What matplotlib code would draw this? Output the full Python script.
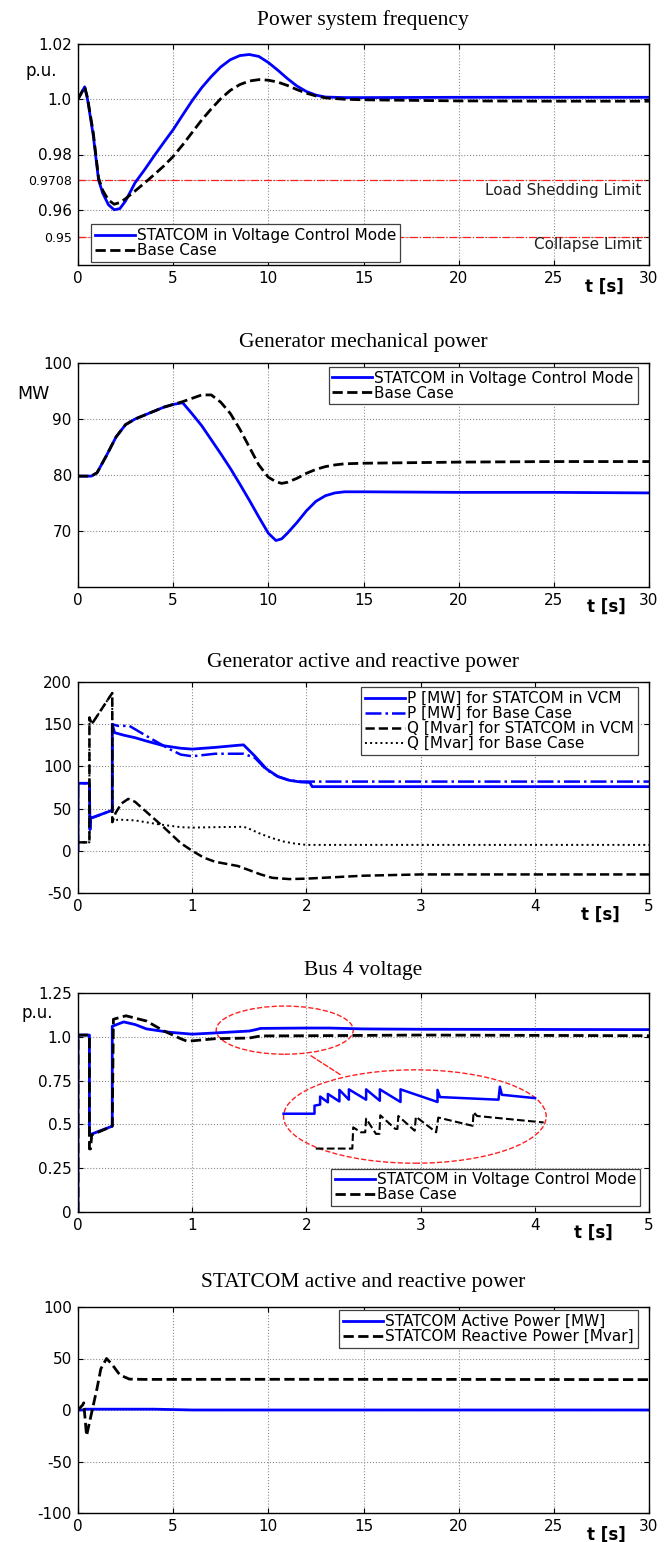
import matplotlib
matplotlib.use('Agg')
import matplotlib.pyplot as plt
import numpy as np
from matplotlib.patches import Ellipse

plt.rcParams['axes.unicode_minus'] = False

# ---- panel 1: power system frequency (p.u.)
t_freq = [0, 0.35, 0.5, 0.8, 1.08, 1.3, 1.6, 1.9, 2.2, 2.5, 3.0, 3.5, 4.0, 4.5, 5.0, 5.5, 6.0,
          6.5, 7.0, 7.5, 8.0, 8.5, 9.0, 9.5, 10.0, 10.5, 11.0, 11.5, 12.0, 12.5, 13.0, 14.0,
          15.0, 20.0, 25.0, 30.0]
freq_statcom = [1.0, 1.0045, 1.0, 0.987, 0.9708, 0.966, 0.9618, 0.9600, 0.9604, 0.9632, 0.9698,
                0.9745, 0.9795, 0.9843, 0.9890, 0.9943, 0.9995, 1.0042, 1.0082, 1.0117, 1.0143,
                1.0158, 1.0162, 1.0155, 1.0133, 1.0105, 1.0075, 1.0048, 1.0028, 1.0015, 1.0008,
                1.0006, 1.0006, 1.0007, 1.0007, 1.0007]
freq_base = [1.0, 1.0045, 1.0005, 0.988, 0.9715, 0.967, 0.9635, 0.9620, 0.9626, 0.9640, 0.9668,
             0.9697, 0.9727, 0.9758, 0.9793, 0.9835, 0.9880, 0.9925, 0.9965, 1.0002, 1.0032,
             1.0053, 1.0066, 1.0071, 1.0069, 1.0062, 1.0050, 1.0035, 1.0022, 1.0012, 1.0005,
             1.0, 0.9998, 0.9994, 0.9993, 0.9993]
load_shedding_limit = 0.9708
collapse_limit = 0.95

# ---- panel 2: generator mechanical power (MW)
t_mech = [0, 0.7, 1.0, 1.5, 2.0, 2.5, 3.0, 3.5, 4.0, 4.5, 5.0, 5.5, 6.0, 6.5, 7.0, 7.5, 8.0,
          8.5, 9.0, 9.5, 10.0, 10.4, 10.7, 11.0, 11.5, 12.0, 12.5, 13.0, 13.5, 14.0, 15.0,
          20.0, 25.0, 30.0]
mech_statcom = [79.8, 79.8, 80.4, 83.5, 86.8, 89.0, 90.0, 90.7, 91.4, 92.1, 92.6, 92.9, 90.9,
                88.8, 86.3, 83.8, 81.2, 78.4, 75.5, 72.5, 69.6, 68.3, 68.6, 69.6, 71.5, 73.6,
                75.3, 76.3, 76.8, 77.0, 77.0, 76.9, 76.9, 76.8]
mech_base = [79.8, 79.8, 80.4, 83.5, 86.8, 89.0, 90.0, 90.7, 91.4, 92.1, 92.6, 93.1, 93.7,
             94.3, 94.3, 93.0, 91.0, 88.2, 85.0, 81.8, 79.6, 78.8, 78.5, 78.7, 79.4, 80.3,
             81.0, 81.5, 81.8, 82.0, 82.1, 82.3, 82.4, 82.4]

# ---- panel 3: generator active and reactive power
t_p_statcom = [0, 0, 0.10, 0.105, 0.11, 0.12, 0.2, 0.3, 0.3, 0.32, 0.4, 0.5, 0.6, 0.75, 0.9,
               1.0, 1.2, 1.4, 1.45, 1.55, 1.65, 1.75, 1.85, 1.95, 2.03, 2.05, 5.0]
p_statcom = [0, 80, 80, 25, 40, 39, 43, 48, 150, 140, 137, 134, 130, 124.5, 121.5, 120.5,
             122.5, 125, 125.5, 112, 97, 88, 83.5, 81.5, 81, 76, 76]
t_p_base = [0, 0, 0.10, 0.105, 0.11, 0.12, 0.2, 0.3, 0.3, 0.35, 0.45, 0.6, 0.8, 0.9, 1.0,
            1.1, 1.2, 1.45, 1.55, 1.65, 1.75, 1.85, 1.95, 2.0, 5.0]
p_base = [0, 80, 80, 25, 40, 39, 43, 48, 150, 148, 148, 136, 120.5, 114, 112, 113.5, 115,
          115, 110, 96, 88, 83.5, 82, 82, 82]
t_q_statcom = [0, 0.1, 0.1, 0.12, 0.3, 0.3, 0.33, 0.38, 0.44, 0.5, 0.6, 0.75, 0.9, 1.0, 1.1,
               1.2, 1.4, 1.5, 1.6, 1.7, 1.85, 2.0, 2.5, 3.0, 4.0, 5.0]
q_statcom = [10, 10, 158, 150, 187, 34, 45, 56, 61.5, 58, 46, 28, 9, 0, -8, -13, -18, -23,
             -28, -32, -33.5, -33, -29.5, -28, -28, -28]
t_q_base = [0, 0.1, 0.1, 0.12, 0.3, 0.3, 0.35, 0.5, 0.7, 0.9, 1.0, 1.2, 1.45, 1.5, 1.6, 1.7,
            1.8, 1.9, 2.0, 3.0, 5.0]
q_base = [10, 10, 158, 150, 187, 34, 37, 36, 31.5, 28, 27.5, 28, 28.5, 26, 20, 15, 11, 8.5,
          7, 7, 7]

# ---- panel 4: bus 4 voltage (p.u.)
t_v_statcom = [0, 0, 0.1, 0.1, 0.12, 0.3, 0.3, 0.4, 0.5, 0.6, 0.8, 1.0, 1.2, 1.5, 1.55, 1.6,
               2.0, 2.2, 2.5, 3.0, 5.0]
v_statcom = [0, 1.01, 1.01, 0.44, 0.445, 0.49, 1.06, 1.085, 1.07, 1.045, 1.026, 1.015, 1.022,
             1.033, 1.04, 1.048, 1.05, 1.05, 1.045, 1.043, 1.041]
t_v_base = [0, 0, 0.1, 0.1, 0.11, 0.12, 0.3, 0.31, 0.42, 0.6, 0.75, 0.9, 0.95, 1.0, 1.2, 1.5,
            1.6, 2.0, 3.0, 5.0]
v_base = [0, 1.01, 1.01, 0.36, 0.36, 0.44, 0.49, 1.1, 1.12, 1.09, 1.034, 0.989, 0.976, 0.977,
          0.989, 0.993, 1.005, 1.006, 1.01, 1.006]
# magnified detail drawn inside the big ellipse
t_zoom_statcom = [1.800, 2.071, 2.071, 2.120, 2.120, 2.188, 2.188, 2.289, 2.289, 2.372, 2.372,
                  2.523, 2.523, 2.643, 2.643, 2.824, 2.824, 3.148, 3.148, 3.170, 3.682, 3.694,
                  3.712, 4.002]
zoom_statcom = [0.561, 0.561, 0.607, 0.613, 0.659, 0.626, 0.674, 0.631, 0.697, 0.641, 0.700,
                0.641, 0.700, 0.635, 0.700, 0.628, 0.700, 0.628, 0.697, 0.656, 0.641, 0.715,
                0.669, 0.650]
t_zoom_base = [2.082, 2.402, 2.410, 2.477, 2.515, 2.523, 2.609, 2.639, 2.647, 2.779, 2.797,
               2.805, 2.948, 2.959, 3.136, 3.155, 3.456, 3.464, 3.494, 4.078]
zoom_base = [0.362, 0.362, 0.483, 0.455, 0.455, 0.533, 0.446, 0.446, 0.552, 0.474, 0.474,
             0.548, 0.464, 0.544, 0.455, 0.539, 0.492, 0.570, 0.548, 0.511]

# ---- panel 5: STATCOM active and reactive power
t_sp = [0, 0.3, 0.35, 4.0, 6.0, 30.0]
statcom_p = [0, 0, 0.8, 0.8, 0, 0]
t_sq = [0, 0.25, 0.3, 0.45, 0.7, 1.0, 1.2, 1.5, 1.8, 2.2, 2.7, 3.5, 10.0, 20.0, 30.0]
statcom_q = [0, 5, 7, -25, -4, 21, 40, 50, 44, 34, 30, 29.7, 29.8, 29.7, 29.5]

BLUE = '#0000ff'
RED = '#ff2020'
SANS = 'DejaVu Sans'
SERIF = 'Liberation Serif'
W, H = 671, 1542

fig = plt.figure(figsize=(W / 100, H / 100), dpi=100)
fig.patch.set_facecolor('white')


def make_axes(top, bottom, title, title_y):
    ax = fig.add_axes([78 / W, 1 - bottom / H, 571 / W, (bottom - top) / H])
    ax.tick_params(direction='in', top=True, right=True, length=3.5, width=0.8,
                   labelsize=11, pad=4.5)
    ax.grid(True, linestyle=':', color='0.55', linewidth=0.8)
    for sp in ax.spines.values():
        sp.set_linewidth(1.0)
    fig.text(363 / W, 1 - title_y / H, title, family=SERIF, fontsize=15.5,
             ha='center', va='center')
    return ax


def finish(ax, tx, ty):
    for lab in ax.get_xticklabels() + ax.get_yticklabels():
        lab.set_family(SANS)
    ax.text(tx, ty, 't [s]', transform=ax.transAxes, family=SANS, fontsize=12,
            fontweight='bold', ha='center', va='center')


def legend(ax, **kw):
    leg = ax.legend(prop={'family': SANS, 'size': 11}, fancybox=False, framealpha=1,
                    edgecolor='#404040', handlelength=2.6, handletextpad=0.15,
                    labelspacing=0.0, borderpad=0.25, borderaxespad=0, **kw)
    leg.get_frame().set_linewidth(0.9)
    return leg


# panel 1
ax1 = make_axes(44, 265, 'Power system frequency', 20)
ax1.axhline(load_shedding_limit, color=RED, ls='-.', lw=0.9)
ax1.axhline(collapse_limit, color=RED, ls='-.', lw=0.9)
ax1.plot(t_freq, freq_statcom, color=BLUE, lw=2, label='STATCOM in Voltage Control Mode')
ax1.plot(t_freq, freq_base, color='k', ls='--', lw=2, label='Base Case')
ax1.set_xlim(0, 30)
ax1.set_ylim(0.94, 1.02)
ax1.set_xticks(np.arange(0, 31, 5))
ax1.set_yticks([0.95, 0.96, 0.9708, 0.98, 1.0, 1.02])
ax1.set_yticklabels(['0.95', '0.96', '0.9708', '0.98', '1.0', '1.02'])
for lab in ax1.get_yticklabels():
    if lab.get_text() in ('0.95', '0.9708'):
        lab.set_fontsize(9)
ax1.text(29.6, 0.9668, 'Load Shedding Limit', family=SANS, fontsize=11, ha='right',
         va='center', color='#202020')
ax1.text(29.6, 0.9474, 'Collapse Limit', family=SANS, fontsize=11, ha='right',
         va='center', color='#202020')
ax1.text(-0.065, 0.878, 'p.u.', transform=ax1.transAxes, family=SANS, fontsize=12,
         ha='center', va='center')
legend(ax1, loc='lower left', bbox_to_anchor=(0.023, 0.015))
finish(ax1, 0.921, -0.10)

# panel 2
ax2 = make_axes(363, 587, 'Generator mechanical power', 343)
ax2.plot(t_mech, mech_statcom, color=BLUE, lw=2, label='STATCOM in Voltage Control Mode')
ax2.plot(t_mech, mech_base, color='k', ls='--', lw=2, label='Base Case')
ax2.set_xlim(0, 30)
ax2.set_ylim(60, 100)
ax2.set_xticks(np.arange(0, 31, 5))
ax2.set_yticks([70, 80, 90, 100])
ax2.text(-0.079, 0.862, 'MW', transform=ax2.transAxes, family=SANS, fontsize=12.5,
         ha='center', va='center')
legend(ax2, loc='upper right', bbox_to_anchor=(0.98, 0.983))
finish(ax2, 0.925, -0.089)

# panel 3
ax3 = make_axes(682, 893, 'Generator active and reactive power', 662)
ax3.plot(t_p_base, p_base, color=BLUE, ls='-.', lw=1.8, label='P [MW] for Base Case')
ax3.plot(t_p_statcom, p_statcom, color=BLUE, lw=2, label='P [MW] for STATCOM in VCM')
ax3.plot(t_q_base, q_base, color='k', ls=':', lw=1.4, label='Q [Mvar] for Base Case')
ax3.plot(t_q_statcom, q_statcom, color='k', ls='--', lw=1.8,
         label='Q [Mvar] for STATCOM in VCM')
ax3.set_xlim(0, 5)
ax3.set_ylim(-50, 200)
ax3.set_xticks(np.arange(0, 6, 1))
ax3.set_yticks(np.arange(-50, 201, 50))
h, l = ax3.get_legend_handles_labels()
order = [1, 0, 3, 2]
legend(ax3, handles=[h[i] for i in order], labels=[l[i] for i in order],
       loc='upper right', bbox_to_anchor=(0.98, 0.976))
finish(ax3, 0.914, -0.104)

# panel 4
ax4 = make_axes(993, 1212, 'Bus 4 voltage', 970)
ax4.plot(t_v_statcom, v_statcom, color=BLUE, lw=2, label='STATCOM in Voltage Control Mode')
ax4.plot(t_v_base, v_base, color='k', ls='--', lw=2, label='Base Case')
ax4.plot(t_zoom_statcom, zoom_statcom, color=BLUE, lw=1.8)
ax4.plot(t_zoom_base, zoom_base, color='k', ls='--', lw=1.5)
ax4.add_patch(Ellipse((1.81, 1.038), 1.2, 0.275, fill=False, edgecolor=RED, ls='--', lw=1))
ax4.add_patch(Ellipse((2.95, 0.545), 2.3, 0.533, fill=False, edgecolor=RED, ls='--', lw=1))
ax4.annotate('', xy=(2.33, 0.77), xytext=(2.02, 0.90),
             arrowprops=dict(arrowstyle='-', color=RED, ls='--', lw=1))
ax4.set_xlim(0, 5)
ax4.set_ylim(0, 1.25)
ax4.set_xticks(np.arange(0, 6, 1))
ax4.set_yticks([0, 0.25, 0.5, 0.75, 1.0, 1.25])
ax4.set_yticklabels(['0', '0.25', '0.5', '0.75', '1.0', '1.25'])
ax4.text(-0.072, 0.909, 'p.u.', transform=ax4.transAxes, family=SANS, fontsize=12,
         ha='center', va='center')
legend(ax4, loc='lower right', bbox_to_anchor=(0.985, 0.026))
finish(ax4, 0.902, -0.096)

# panel 5
ax5 = make_axes(1307, 1513, 'STATCOM active and reactive power', 1282)
ax5.plot(t_sp, statcom_p, color=BLUE, lw=2, label='STATCOM Active Power [MW]')
ax5.plot(t_sq, statcom_q, color='k', ls='--', lw=2, label='STATCOM Reactive Power [Mvar]')
ax5.set_xlim(0, 30)
ax5.set_ylim(-100, 100)
ax5.set_xticks(np.arange(0, 31, 5))
ax5.set_yticks(np.arange(-100, 101, 50))
legend(ax5, loc='upper right', bbox_to_anchor=(0.98, 0.984))
finish(ax5, 0.925, -0.107)

fig.savefig('out.png', dpi=100)
